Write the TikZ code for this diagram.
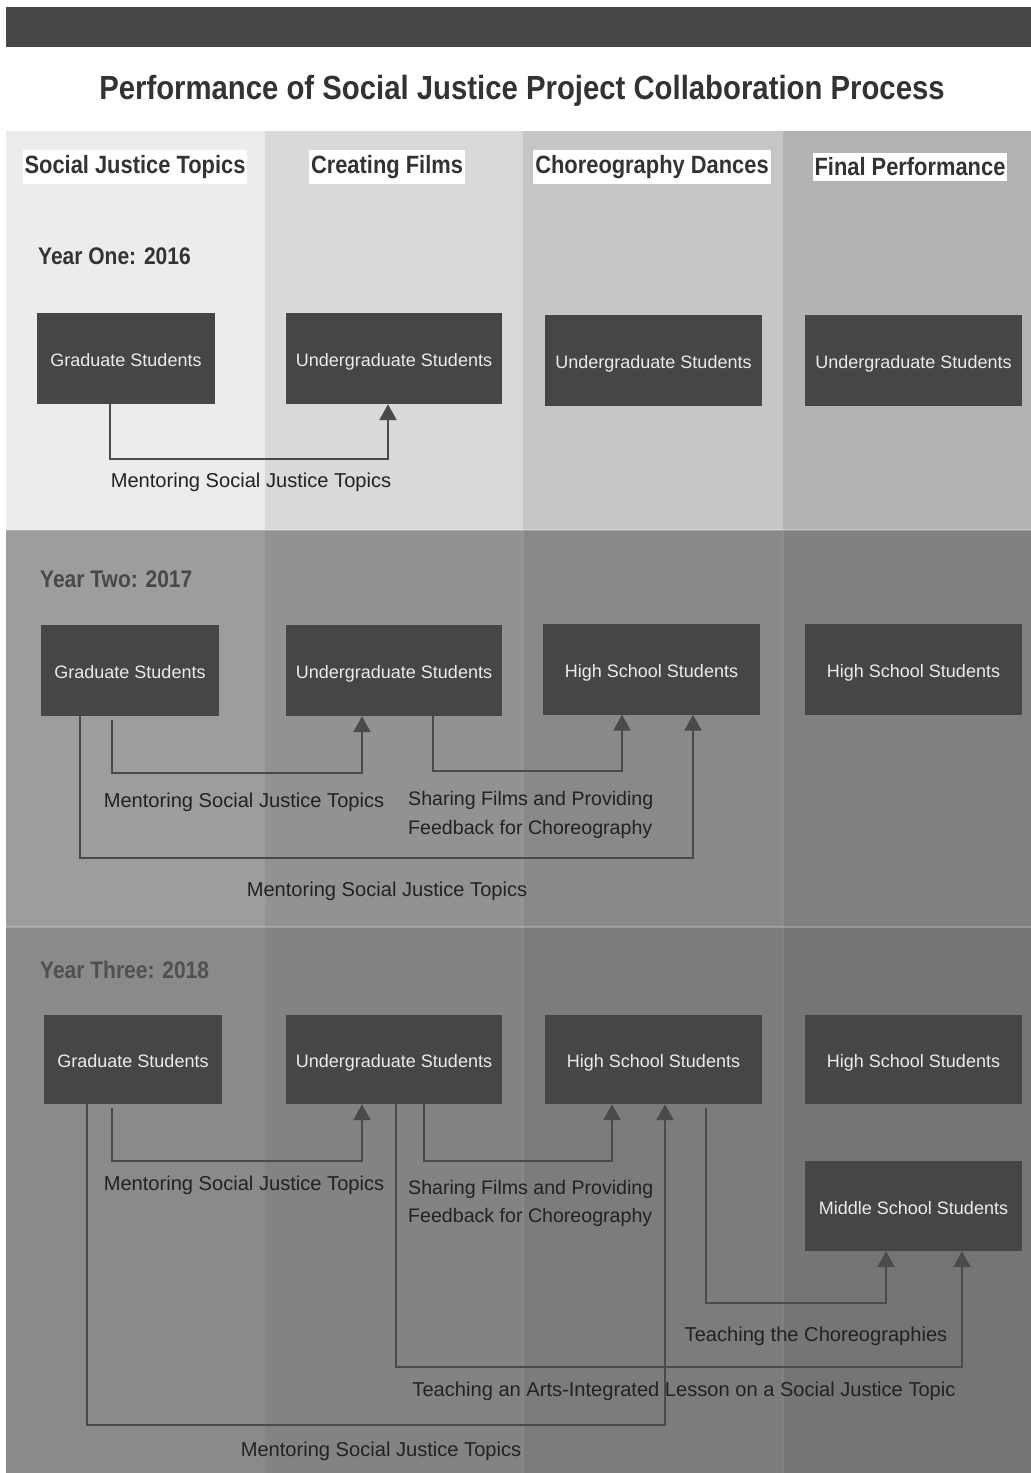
\documentclass[tikz,border=0pt]{standalone}
\usepackage{fontspec}
\setmainfont{Liberation Sans}
\newfontfamily\condfont[FakeStretch=0.875]{Liberation Sans}
\usetikzlibrary{arrows.meta}
\definecolor{topbar}{HTML}{474747}
\definecolor{boxc}{HTML}{464646}
\definecolor{boxtxt}{HTML}{EBEBEB}
\definecolor{hdrtxt}{HTML}{333333}
\definecolor{lbltxt}{HTML}{222222}
\definecolor{linec}{HTML}{4A4A4A}
\definecolor{yrtwo}{HTML}{484848}
\definecolor{yrthree}{HTML}{505050}
\definecolor{ra}{HTML}{ECECEC}\definecolor{rb}{HTML}{D9D9D9}\definecolor{rc}{HTML}{C6C6C6}\definecolor{rd}{HTML}{B3B3B3}
\definecolor{sa}{HTML}{9D9D9D}\definecolor{sb}{HTML}{929292}\definecolor{sc}{HTML}{898989}\definecolor{sd}{HTML}{808080}
\definecolor{ta}{HTML}{8A8A8A}\definecolor{tb}{HTML}{838383}\definecolor{tc}{HTML}{7C7C7C}\definecolor{td}{HTML}{757575}
\begin{document}
\begin{tikzpicture}[x=1pt,y=-1pt,
  stu/.style={fill=boxc, text=boxtxt, font=\fontsize{18}{20}\selectfont, minimum height=91pt, inner sep=0pt, text height=16pt, text depth=0pt},
  hdr/.style={fill=white, text=hdrtxt, font=\condfont\bfseries\fontsize{25}{28}\selectfont, inner xsep=2pt, inner ysep=5pt},
  yr/.style={anchor=west, font=\condfont\bfseries\fontsize{24}{26}\selectfont, inner sep=0pt},
  lbl/.style={text=lbltxt, font=\fontsize{20.1}{28.5}\selectfont, inner sep=0pt},
  lbltwo/.style={lbl, font=\fontsize{19.6}{28.5}\selectfont},
  sep/.style={draw=white, opacity=0.22, line width=1.5pt},
  conn/.style={draw=linec, line width=2.5pt, -{Triangle[width=17pt,length=16pt]}}]
\useasboundingbox (0,0) rectangle (1031,1473);
\fill[white] (0,0) rectangle (1031,1473);
\fill[topbar] (6,7) rectangle (1031,47);
\node[font=\condfont\bfseries\fontsize{33.5}{36}\selectfont, text=hdrtxt] (title) at (522,91) {Performance of Social Justice Project Collaboration Process};
% background bands
\fill[ra] (6,131) rectangle (265,530);
\fill[rb] (265,131) rectangle (523,530);
\fill[rc] (523,131) rectangle (783,530);
\fill[rd] (783,131) rectangle (1031,530);
\fill[sa] (6,530) rectangle (265,927);
\fill[sb] (265,530) rectangle (523,927);
\fill[sc] (523,530) rectangle (783,927);
\fill[sd] (783,530) rectangle (1031,927);
\fill[ta] (6,927) rectangle (265,1473);
\fill[tb] (265,927) rectangle (523,1473);
\fill[tc] (523,927) rectangle (783,1473);
\fill[td] (783,927) rectangle (1031,1473);
\draw[sep] (6,530) -- (1031,530);
\draw[sep] (6,927) -- (1031,927);
\draw[sep, opacity=0.08] (523,530) -- (523,1473);
\draw[sep, opacity=0.08] (783,530) -- (783,1473);
% column headers
\node[hdr] (h1) at (135,167) {Social Justice Topics};
\node[hdr] (h2) at (387,167) {Creating Films};
\node[hdr] (h3) at (652,167) {Choreography Dances};
\node[hdr] (h4) at (910,167) {Final Performance};
% year labels
\node[yr, text=hdrtxt] (y1) at (38,256) {Year One: 2016};
\node[yr, text=yrtwo] (y2) at (40,579) {Year Two: 2017};
\node[yr, text=yrthree] (y3) at (40,970) {Year Three: 2018};
% row 1
\node[stu, minimum width=178pt] (G1) at (126,358.5) {Graduate Students};
\node[stu, minimum width=216pt] (U1a) at (394,358.5) {Undergraduate Students};
\node[stu, minimum width=217pt] (U1b) at (653.5,360.5) {Undergraduate Students};
\node[stu, minimum width=217pt] (U1c) at (913.5,360.5) {Undergraduate Students};
% row 2
\node[stu, minimum width=178pt] (G2) at (130,670.5) {Graduate Students};
\node[stu, minimum width=216pt] (U2) at (394,670.5) {Undergraduate Students};
\node[stu, minimum width=217pt] (H2a) at (651.5,669) {High School Students};
\node[stu, minimum width=217pt] (H2b) at (913.5,669) {High School Students};
% row 3
\node[stu, minimum width=178pt, minimum height=89pt] (G3) at (133,1059.5) {Graduate Students};
\node[stu, minimum width=216pt, minimum height=89pt] (U3) at (394,1059.5) {Undergraduate Students};
\node[stu, minimum width=217pt, minimum height=89pt] (H3a) at (653.5,1059.5) {High School Students};
\node[stu, minimum width=217pt, minimum height=89pt] (H3b) at (913.5,1059.5) {High School Students};
\node[stu, minimum width=217pt, minimum height=90pt] (M3) at (913.5,1206) {Middle School Students};
% labels
\node[lbl] (l1) at (251,482) {Mentoring Social Justice Topics};
\node[lbl] (l2) at (244,802) {Mentoring Social Justice Topics};
\node[lbltwo, anchor=west, align=left] (l3) at (408,815) {Sharing Films and Providing\\Feedback for Choreography};
\node[lbl] (l4) at (387,891) {Mentoring Social Justice Topics};
\node[lbl] (l5) at (244,1185) {Mentoring Social Justice Topics};
\node[lbltwo, anchor=west, align=left] (l6) at (408,1203.5) {Sharing Films and Providing\\Feedback for Choreography};
\node[lbl] (l7) at (816,1336) {Teaching the Choreographies};
\node[lbl] (l8) at (684,1391) {Teaching an Arts-Integrated Lesson on a Social Justice Topic};
\node[lbl] (l9) at (381,1451) {Mentoring Social Justice Topics};
% connectors
\draw[conn] (G1.south -| 110,0) -- (110,459) -| (U1a.south -| 388,0);
\draw[conn, shorten <=4pt] (G2.south -| 112,0) -- (112,773) -| (U2.south -| 362,0);
\draw[conn] (U2.south -| 433,0) -- (433,771) -| (H2a.south -| 622,0);
\draw[conn] (G2.south -| 80,0) -- (80,858) -| (H2a.south -| 693,0);
\draw[conn, shorten <=4pt] (G3.south -| 112,0) -- (112,1161) -| (U3.south -| 362,0);
\draw[conn] (U3.south -| 424,0) -- (424,1161) -| (H3a.south -| 612,0);
\draw[conn, shorten <=4pt] (H3a.south -| 706,0) -- (706,1303) -| (M3.south -| 886,0);
\draw[conn] (U3.south -| 396,0) -- (396,1367) -| (M3.south -| 962,0);
\draw[conn] (G3.south -| 87,0) -- (87,1425) -| (H3a.south -| 665,0);
\end{tikzpicture}
\end{document}
